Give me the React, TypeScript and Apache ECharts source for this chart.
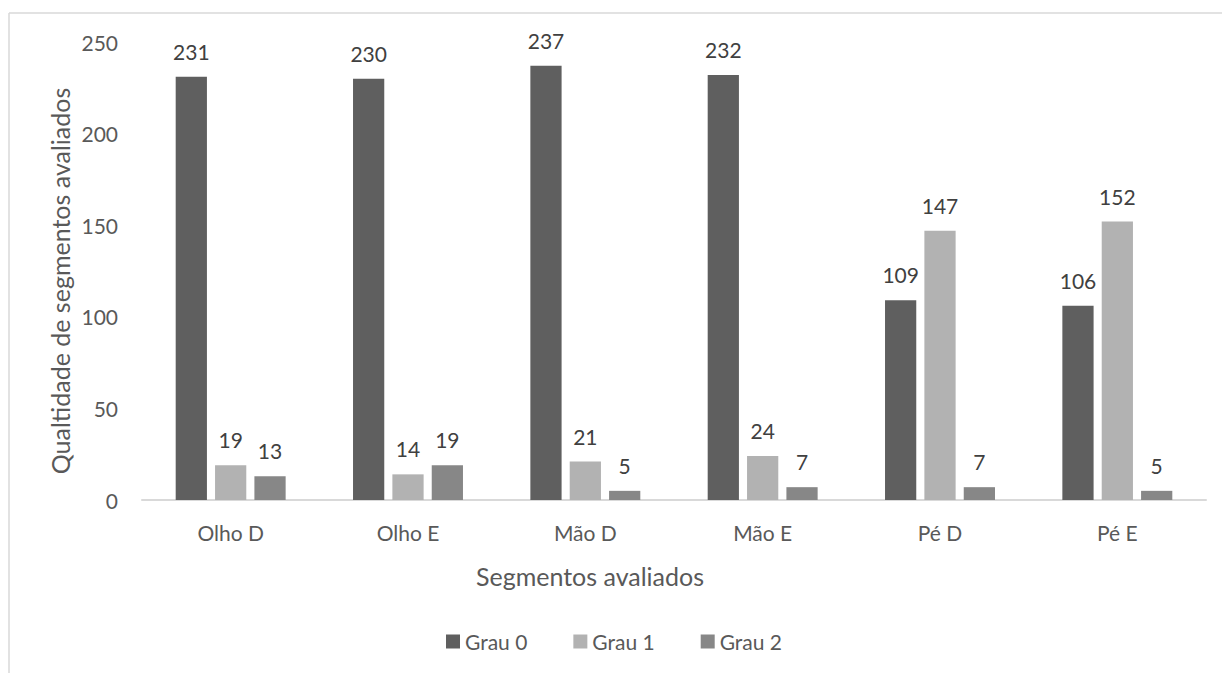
import React, { useEffect, useRef } from "react";
import * as echarts from "echarts";

const categories = ["Olho D", "Olho E", "Mão D", "Mão E", "Pé D", "Pé E"];
const grau0 = [231, 230, 237, 232, 109, 106];
const grau1 = [19, 14, 21, 24, 147, 152];
const grau2 = [13, 19, 5, 7, 7, 5];
const seriesNames = ["Grau 0", "Grau 1", "Grau 2"];
const seriesColors = ["#5f5f5f", "#b2b2b2", "#878787"];
const yTicks = { min: 0, max: 250, interval: 50 };
const xTitle = "Segmentos avaliados";
const yTitle = "Qualtidade de segmentos avaliados";

const FONT = "Lato, 'Open Sans', sans-serif";
const AXIS_TEXT = "#595959";

export default function App() {
  const ref = useRef<HTMLDivElement>(null);

  useEffect(() => {
    if (!ref.current) return;
    const chart = echarts.init(ref.current, undefined, { renderer: "svg" });
    const values = [grau0, grau1, grau2];
    chart.setOption({
      animation: false,
      backgroundColor: "#ffffff",
      textStyle: { fontFamily: FONT },
      graphic: [
        // chart-area frame (top and left edges)
        { type: "line", shape: { x1: 9, y1: 13, x2: 1222, y2: 13 }, style: { stroke: "#d9d9d9", lineWidth: 1.5 } },
        { type: "line", shape: { x1: 9, y1: 13, x2: 9, y2: 673 }, style: { stroke: "#d9d9d9", lineWidth: 1.5 } },
        // axis titles
        {
          type: "text",
          x: 590,
          y: 576,
          style: {
            text: xTitle,
            fill: AXIS_TEXT,
            font: `25px ${FONT}`,
            align: "center",
            verticalAlign: "middle",
          },
        },
        {
          type: "text",
          x: 60,
          y: 281,
          rotation: Math.PI / 2,
          style: {
            text: yTitle,
            fill: AXIS_TEXT,
            font: `25px ${FONT}`,
            align: "center",
            verticalAlign: "middle",
          },
        },
      ],
      grid: { left: 142, right: 16, top: 42, bottom: 173 },
      legend: {
        top: 631,
        left: 446,
        padding: 0,
        itemWidth: 14,
        itemHeight: 14,
        itemGap: 46,
        itemStyle: { borderWidth: 0 },
        icon: "rect",
        textStyle: { color: AXIS_TEXT, fontSize: 21, fontFamily: FONT },
        data: seriesNames,
      },
      xAxis: {
        type: "category",
        data: categories,
        axisLine: { lineStyle: { color: "#d9d9d9", width: 2 } },
        axisTick: { show: false },
        axisLabel: { color: AXIS_TEXT, fontSize: 21, margin: 22, fontFamily: FONT },
      },
      yAxis: {
        type: "value",
        min: yTicks.min,
        max: yTicks.max,
        interval: yTicks.interval,
        splitLine: { show: false },
        axisLine: { show: false },
        axisTick: { show: false },
        axisLabel: { color: AXIS_TEXT, fontSize: 21, margin: 24, fontFamily: FONT },
      },
      series: seriesNames.map((name, i) => ({
        name,
        type: "bar",
        data: values[i],
        barGap: "26%",
        barCategoryGap: "38%",
        itemStyle: { color: seriesColors[i] },
        label: {
          show: true,
          position: "top",
          distance: 15,
          color: "#404040",
          fontSize: 21,
          fontFamily: FONT,
        },
      })),
    });
    return () => chart.dispose();
  }, []);

  return (
    <div
      ref={ref}
      style={{ position: "absolute", left: 0, top: 0, width: 1222, height: 673 }}
    />
  );
}
